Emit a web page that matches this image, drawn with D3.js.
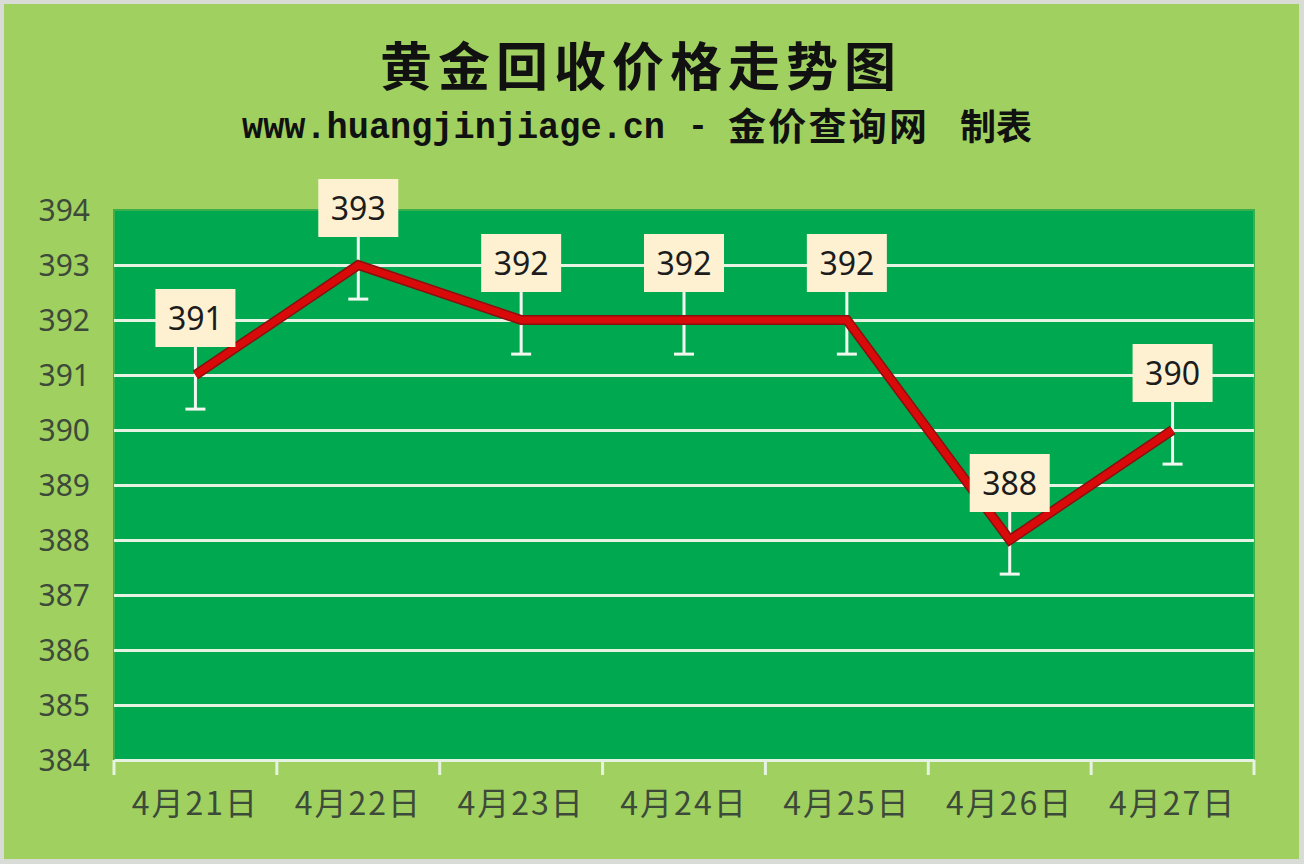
<!DOCTYPE html>
<html><head><meta charset="utf-8">
<script src="https://cdn.jsdelivr.net/npm/d3@7"></script>
<style>html,body{margin:0;padding:0;background:#fff;}svg{display:block;}</style>
</head><body>
<svg id="c" width="1304" height="864"></svg>
<script>
const categories = ["4月21日","4月22日","4月23日","4月24日","4月25日","4月26日","4月27日"];
const prices = [391, 393, 392, 392, 392, 388, 390];
const errorBelow = [0.62, 0.62, 0.62, 0.62, 0.62, 0.62, 0.62];
const yTicks = [384,385,386,387,388,389,390,391,392,393,394];
const titleText = "黄金回收价格走势图";
const subtitleLatin = "www.huangjinjiage.cn";
const subtitleDash = "-";
const subtitleCJK1 = "金价查询网";
const subtitleCJK2 = "制表";

const svg = d3.select("#c");
const W = 1304, H = 864;
const m = {left:114, right:50, top:210, bottom:104};
const pw = W - m.left - m.right, ph = H - m.top - m.bottom;

// outer background
svg.append("rect").attr("x",0).attr("y",0).attr("width",W).attr("height",H).attr("fill","#d9dcd6");
svg.append("rect").attr("x",4).attr("y",4).attr("width",W-9).attr("height",H-9).attr("fill","#a0d160");

const x = d3.scaleBand().domain(categories).range([m.left, m.left+pw]).padding(0);
const y = d3.scaleLinear().domain([384,394]).range([m.top+ph, m.top]);

// plot area
svg.append("rect").attr("x",m.left).attr("y",m.top).attr("width",pw).attr("height",ph)
  .attr("fill","#00a94f").attr("stroke","#3bb04a").attr("stroke-width",2);

// gridlines
const gy = svg.append("g").attr("transform",`translate(${m.left},0)`)
  .call(d3.axisLeft(y).tickValues(yTicks.filter(v=>v>384 && v<394)).tickSize(-pw).tickFormat(""));
gy.select(".domain").remove();
gy.selectAll("line").attr("stroke","#e6f2e2").attr("stroke-width",3);

// y axis labels
const ya = svg.append("g").attr("transform",`translate(${m.left-24},0)`)
  .call(d3.axisLeft(y).tickValues(yTicks).tickSize(0).tickPadding(0).tickFormat(d3.format("d")));
ya.select(".domain").remove();
ya.selectAll("text").attr("font-family","'Noto Sans', sans-serif").attr("font-size",30)
  .attr("fill","#3d4a3a").attr("dy","0.35em");

// x axis
const xa = svg.append("g").attr("transform",`translate(0,${m.top+ph})`)
  .call(d3.axisBottom(x).tickSize(0).tickPadding(32));
xa.select(".domain").attr("stroke","#e6f2e2").attr("stroke-width",3);
xa.selectAll("text").attr("font-family","'Noto Sans CJK SC', sans-serif").attr("font-size",32)
  .attr("fill","#3d4a3a").attr("letter-spacing","2px");
// category boundary ticks
const bounds = categories.map(c=>x(c)).concat([m.left+pw]);
svg.append("g").selectAll("line").data(bounds).join("line")
  .attr("x1",d=>d).attr("x2",d=>d).attr("y1",m.top+ph).attr("y2",m.top+ph+15)
  .attr("stroke","#e6f2e2").attr("stroke-width",3);

const cx = c => x(c) + x.bandwidth()/2;

// error bars (white)
const eb = svg.append("g");
categories.forEach((c,i)=>{
  const v = prices[i], e = errorBelow[i];
  eb.append("line").attr("x1",cx(c)).attr("x2",cx(c)).attr("y1",y(v+e)).attr("y2",y(v-e))
    .attr("stroke","#f2f8f0").attr("stroke-width",3);
  eb.append("line").attr("x1",cx(c)-10).attr("x2",cx(c)+10).attr("y1",y(v-e)).attr("y2",y(v-e))
    .attr("stroke","#f2f8f0").attr("stroke-width",3);
});

// line
const line = d3.line().x((d,i)=>cx(categories[i])).y(d=>y(d));
svg.append("path").datum(prices).attr("d",line).attr("fill","none")
  .attr("stroke","#8a1010").attr("stroke-width",10).attr("stroke-linejoin","miter");
svg.append("path").datum(prices).attr("d",line).attr("fill","none")
  .attr("stroke","#d80a0a").attr("stroke-width",7).attr("stroke-linejoin","miter");

// data labels
const lbl = svg.append("g");
categories.forEach((c,i)=>{
  const v = prices[i];
  const yc = y(v) - 57;
  lbl.append("rect").attr("x",cx(c)-40).attr("y",yc-29).attr("width",80).attr("height",58)
    .attr("fill","#fdf1d2");
  lbl.append("text").attr("x",cx(c)).attr("y",yc).attr("dy","0.36em").attr("text-anchor","middle")
    .attr("font-family","'Noto Sans', sans-serif").attr("font-size",32).attr("fill","#1c1c1c")
    .text(d3.format("d")(v));
});

// titles
svg.append("text").attr("x",641).attr("y",86).attr("text-anchor","middle")
  .attr("font-family","'Noto Sans CJK SC', sans-serif").attr("font-weight","bold")
  .attr("font-size",52).attr("letter-spacing","6px").attr("fill","#111").text(titleText);
const sub = svg.append("g").attr("fill","#111").attr("font-weight","bold");
sub.append("text").attr("x",242).attr("y",138).attr("font-family","'Liberation Mono', monospace")
  .attr("font-size",36).attr("textLength",423).attr("lengthAdjust","spacingAndGlyphs").text(subtitleLatin);
sub.append("text").attr("x",698).attr("y",136).attr("text-anchor","middle").attr("font-family","'Liberation Mono', monospace")
  .attr("font-size",34).text(subtitleDash);
sub.append("text").attr("x",728).attr("y",140).attr("font-family","'Noto Sans CJK SC', sans-serif")
  .attr("font-size",38).attr("textLength",199).attr("lengthAdjust","spacing").text(subtitleCJK1);
sub.append("text").attr("x",960).attr("y",140).attr("font-family","'Noto Sans CJK SC', sans-serif")
  .attr("font-size",36).attr("textLength",72).attr("lengthAdjust","spacingAndGlyphs").text(subtitleCJK2);
</script>
</body></html>
